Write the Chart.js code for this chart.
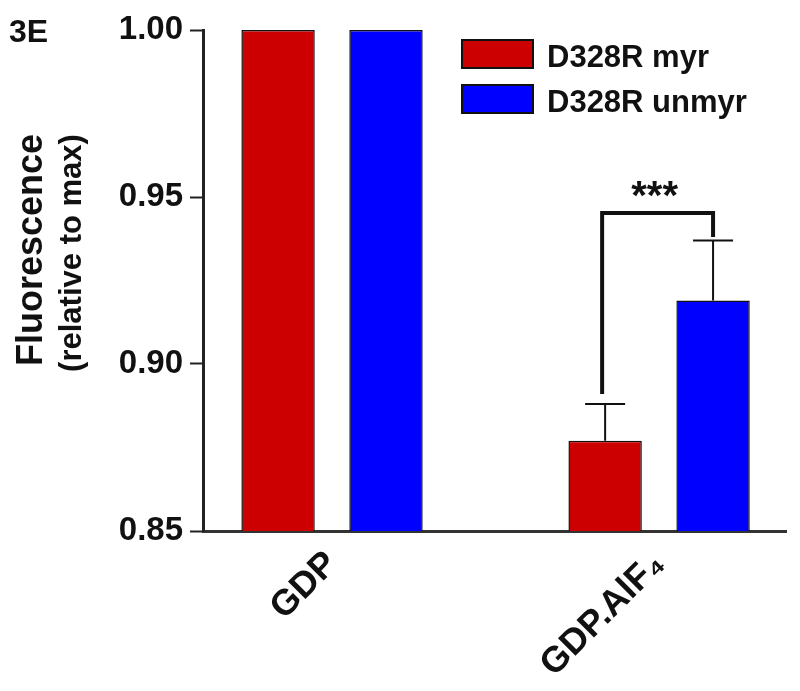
<!DOCTYPE html>
<html><head><meta charset="utf-8">
<script src="https://cdn.jsdelivr.net/npm/chart.js@4/dist/chart.umd.min.js"></script>
<style>html,body{margin:0;padding:0;background:#fff;}#wrap{width:800px;height:691px;}</style>
</head><body><div id="wrap"><canvas id="c" width="800" height="691"></canvas></div>
<script>
// ---- data ----
const categories = ['GDP', 'GDP.AlF\u2084'];
const categoryPositions = [1, 2];
const seriesNames = ['D328R myr', 'D328R unmyr'];
const myrValues = [1.00, 0.877];
const unmyrValues = [1.00, 0.919];
const myrErrors = [0, 0.011];
const unmyrErrors = [0, 0.018];
const yTicks = [0.85, 0.90, 0.95, 1.00];
const panelLabel = '3E';
const yTitle = 'Fluorescence';
const ySubTitle = '(relative to max)';
const sigLabel = '***';
const sigBracket = [0.891, 0.9452, 0.938]; // left foot, top, right foot

const FONT = '"Liberation Sans", Arial, sans-serif';
const INK = '#111';

const errorBars = {
  id: 'errorBars',
  afterDatasetsDraw(chart) {
    const ctx = chart.ctx, y = chart.scales.y;
    const errs = [myrErrors, unmyrErrors];
    chart.data.datasets.forEach((ds, di) => {
      const meta = chart.getDatasetMeta(di);
      meta.data.forEach((el, i) => {
        const e = errs[di][i];
        if (!e) return;
        const top = y.getPixelForValue(ds.data[i].y + e);
        ctx.save();
        ctx.strokeStyle = INK; ctx.lineWidth = 2;
        ctx.beginPath();
        ctx.moveTo(el.x, el.y); ctx.lineTo(el.x, top);
        ctx.moveTo(el.x - 20, top); ctx.lineTo(el.x + 20, top);
        ctx.stroke();
        ctx.restore();
      });
    });
    const a = chart.getDatasetMeta(0).data[1], b = chart.getDatasetMeta(1).data[1];
    const yl = y.getPixelForValue(sigBracket[0]);
    const yt = y.getPixelForValue(sigBracket[1]);
    const yr = y.getPixelForValue(sigBracket[2]);
    const xl = a.x - 3, xr = b.x;
    ctx.save();
    ctx.strokeStyle = INK; ctx.lineWidth = 4; ctx.lineCap = 'butt';
    ctx.beginPath();
    ctx.moveTo(xl, yl); ctx.lineTo(xl, yt); ctx.lineTo(xr, yt); ctx.lineTo(xr, yr);
    ctx.stroke();
    ctx.fillStyle = INK;
    ctx.font = 'bold 40px ' + FONT;
    ctx.textAlign = 'center'; ctx.textBaseline = 'alphabetic';
    ctx.fillText(sigLabel, (xl + xr) / 2 - 3, yt - 4);
    ctx.restore();
  }
};

const decorations = {
  id: 'decorations',
  afterDraw(chart) {
    const ctx = chart.ctx;
    ctx.save();
    ctx.fillStyle = INK;
    ctx.font = 'bold 32px ' + FONT;
    ctx.textAlign = 'left'; ctx.textBaseline = 'alphabetic';
    ctx.fillText(panelLabel, 9, 42);
    ctx.save();
    ctx.translate(42, 250); ctx.rotate(-Math.PI / 2);
    ctx.font = 'bold 36px ' + FONT; ctx.textAlign = 'center';
    ctx.fillText(yTitle, 0, 0);
    ctx.restore();
    ctx.save();
    ctx.translate(81, 253); ctx.rotate(-Math.PI / 2);
    ctx.font = 'bold 31px ' + FONT; ctx.textAlign = 'center';
    ctx.fillText(ySubTitle, 0, 0);
    ctx.restore();
    chart.data.datasets.forEach((ds, i) => {
      const bx = 462, by = 40 + i * 45, bw = 71, bh = 28;
      ctx.fillStyle = ds.backgroundColor;
      ctx.fillRect(bx, by, bw, bh);
      ctx.strokeStyle = INK; ctx.lineWidth = 2;
      ctx.strokeRect(bx, by, bw, bh);
      ctx.fillStyle = INK;
      ctx.font = 'bold 31px ' + FONT;
      ctx.textAlign = 'left'; ctx.textBaseline = 'alphabetic';
      ctx.fillText(ds.label, 547, by + bh - 1);
    });
    ctx.restore();
  }
};

new Chart(document.getElementById('c'), {
  type: 'bar',
  data: {
    datasets: [
      { label: seriesNames[0], data: categoryPositions.map((x, i) => ({ x, y: myrValues[i] })),
        backgroundColor: '#CC0000', borderColor: INK, borderWidth: 1.5,
        categoryPercentage: 0.66, barPercentage: 0.68 },
      { label: seriesNames[1], data: categoryPositions.map((x, i) => ({ x, y: unmyrValues[i] })),
        backgroundColor: '#0000FF', borderColor: INK, borderWidth: 1.5,
        categoryPercentage: 0.66, barPercentage: 0.68 }
    ]
  },
  options: {
    responsive: false, animation: false, devicePixelRatio: 1,
    layout: { padding: { top: 30, right: 14, left: 0, bottom: 0 } },
    plugins: { legend: { display: false }, tooltip: { enabled: false } },
    scales: {
      x: {
        type: 'linear', min: 0.6055, max: 2.388, offset: false,
        afterBuildTicks: s => { s.ticks = categoryPositions.map(v => ({ value: v })); },
        afterFit: s => { s.height = 160; },
        grid: { display: false, drawTicks: false, offset: false },
        border: { display: true, color: '#333', width: 3 },
        ticks: {
          autoSkip: false, minRotation: 45, maxRotation: 45, padding: 12,
          color: INK, font: { family: FONT, size: 36, weight: 'bold' },
          callback: v => categories[categoryPositions.indexOf(v)]
        }
      },
      y: {
        min: 0.85, max: 1.0,
        afterBuildTicks: s => { s.ticks = yTicks.map(v => ({ value: v })); },
        afterFit: s => { s.width = 203; },
        grid: { drawOnChartArea: false, tickLength: 13, tickColor: '#222', tickWidth: 2 },
        border: { display: true, color: '#222', width: 3 },
        ticks: {
          padding: 7, color: INK, font: { family: FONT, size: 33, weight: 'bold' },
          callback: v => v.toFixed(2)
        }
      }
    }
  },
  plugins: [errorBars, decorations]
});
</script></body></html>
